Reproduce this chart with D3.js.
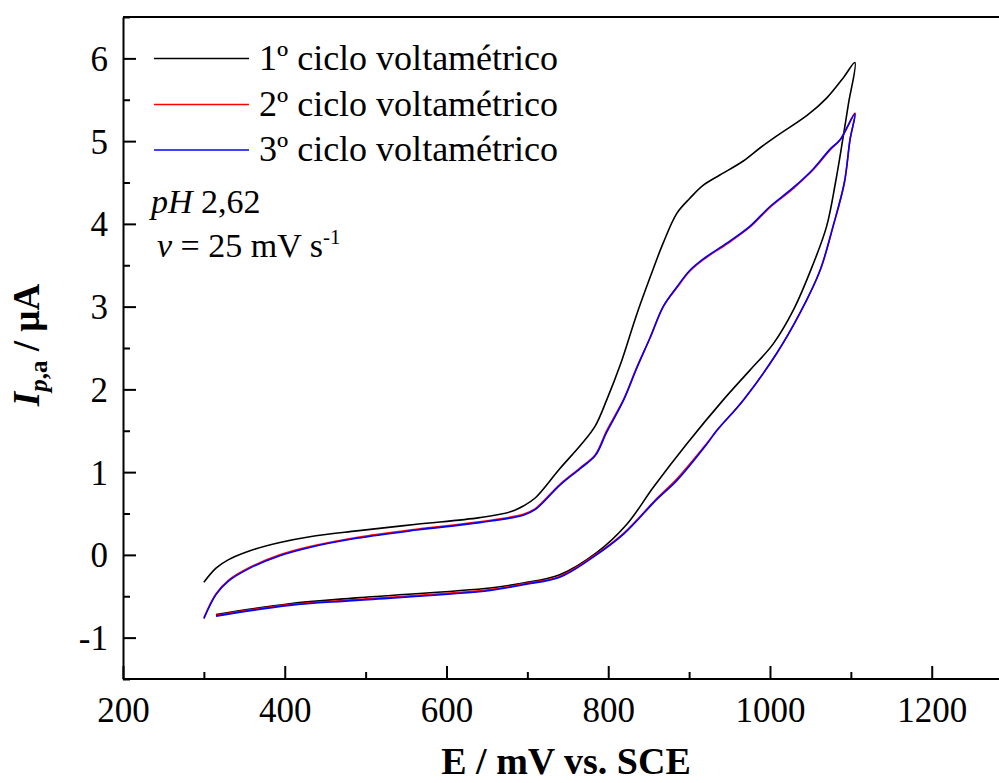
<!DOCTYPE html>
<html><head><meta charset="utf-8">
<script src="https://cdn.jsdelivr.net/npm/d3@7"></script>
<style>
body{margin:0;background:#fff;}
svg{display:block;}
text{font-family:"Liberation Serif","Times New Roman",serif;fill:#000;}
</style></head>
<body>
<svg id="chart" width="999" height="783"></svg>
<script>
// ---- data ----
const cycle1E = [300,315,330,357,394,431,489,563,641,679,695,710,740,767,784,798,815,835,852,868,885,901,918,938,967,988,1008,1047,1070,1091,1105,
                 1097,1090,1081,1070,1052,1029,1004,975,942,897,856,823,786,740,695,654,489,406,315];
const cycle1I = [-0.33,-0.16,-0.06,0.05,0.15,0.22,0.29,0.37,0.45,0.52,0.59,0.69,1.04,1.34,1.56,1.87,2.30,2.90,3.36,3.77,4.13,4.31,4.47,4.59,4.76,4.92,5.06,5.32,5.52,5.77,5.95,
                 5.45,5.02,4.50,3.97,3.48,2.96,2.55,2.23,1.87,1.34,0.82,0.37,0.03,-0.24,-0.34,-0.40,-0.52,-0.59,-0.72];
const cycle2E = [300,315,330,357,394,431,489,563,641,695,710,740,765,784,798,819,835,852,868,885,901,918,947,975,1000,1029,1054,1074,1087,1105,
                 1099,1092,1078,1062,1037,1008,967,934,922,885,860,819,781,740,695,654,489,406,315];
const cycle2I = [-0.76,-0.47,-0.31,-0.15,0.00,0.10,0.21,0.31,0.40,0.49,0.56,0.85,1.05,1.21,1.50,1.88,2.26,2.63,3.00,3.23,3.43,3.57,3.76,3.96,4.20,4.43,4.66,4.89,5.02,5.34,
                 5.02,4.50,3.97,3.44,2.92,2.43,1.87,1.50,1.35,0.92,0.68,0.26,-0.02,-0.26,-0.35,-0.42,-0.54,-0.60,-0.73];
const cycle3E = [300,315,330,357,394,431,489,563,641,695,710,740,765,784,798,819,835,852,868,885,901,918,947,975,1000,1029,1054,1074,1087,1105,
                 1099,1092,1078,1062,1037,1008,967,934,922,885,860,819,781,740,695,654,489,406,315];
const cycle3I = [-0.77,-0.48,-0.32,-0.16,-0.01,0.09,0.20,0.30,0.39,0.48,0.55,0.84,1.04,1.20,1.48,1.87,2.25,2.63,3.00,3.24,3.44,3.58,3.77,3.97,4.21,4.44,4.67,4.90,5.02,5.33,
                 5.02,4.50,3.97,3.44,2.92,2.43,1.87,1.50,1.34,0.90,0.67,0.25,-0.03,-0.27,-0.36,-0.43,-0.55,-0.61,-0.74];
const seriesNames = ["1º ciclo voltamétrico","2º ciclo voltamétrico","3º ciclo voltamétrico"];
const seriesColors = ["#000000","#ff0000","#0000ff"];
const xTickValues = [200,400,600,800,1000,1200];
const xMinorTicks = [300,500,700,900,1100,1300];
const yTickValues = [-1,0,1,2,3,4,5,6];
const yMinorTicks = [-1.5,-0.5,0.5,1.5,2.5,3.5,4.5,5.5,6.5];

// ---- layout ----
const svg = d3.select("#chart");
const x = d3.scaleLinear().domain([200,1300]).range([123,1012.6]);
const y = d3.scaleLinear().domain([-1.5,6.5]).range([679,17]);

const series = [
  {name:seriesNames[0], color:seriesColors[0], E:cycle1E, I:cycle1I},
  {name:seriesNames[1], color:seriesColors[1], E:cycle2E, I:cycle2I},
  {name:seriesNames[2], color:seriesColors[2], E:cycle3E, I:cycle3I}
];

const line = d3.line().curve(d3.curveCatmullRom.alpha(0.5)).x(d=>x(d[0])).y(d=>y(d[1]));
series.forEach(s=>{
  svg.append("path")
    .datum(s.E.map((e,i)=>[e,s.I[i]]))
    .attr("fill","none").attr("stroke",s.color).attr("stroke-width",1.6)
    .attr("stroke-linejoin","round")
    .attr("d",line);
});

// frame
svg.append("line").attr("x1",123).attr("x2",999).attr("y1",17).attr("y2",17).attr("stroke","#000").attr("stroke-width",2);

// axes
const fmt = d => String(d);
const xAxis = svg.append("g").attr("transform","translate(0,679)")
  .call(d3.axisBottom(x).tickValues(xTickValues).tickSizeInner(-13).tickSizeOuter(0).tickFormat(fmt));
svg.append("g").attr("transform","translate(0,679)")
  .call(d3.axisBottom(x).tickValues(xMinorTicks).tickSizeInner(-7).tickSizeOuter(0).tickFormat(""))
  .select(".domain").remove();
const yAxis = svg.append("g").attr("transform","translate(123,0)")
  .call(d3.axisLeft(y).tickValues(yTickValues).tickSizeInner(-13).tickSizeOuter(0).tickFormat(fmt));
svg.append("g").attr("transform","translate(123,0)")
  .call(d3.axisLeft(y).tickValues(yMinorTicks).tickSizeInner(-7).tickSizeOuter(0).tickFormat(""))
  .select(".domain").remove();
svg.selectAll(".domain").attr("stroke-width",2);
svg.selectAll(".tick line").attr("stroke-width",2);
svg.selectAll(".tick text").style("font-family","'Liberation Serif',serif").style("font-size","35px").attr("fill","#000");
xAxis.selectAll(".tick text").attr("dy","0").attr("y",43);
yAxis.selectAll(".tick text").attr("x",-15).attr("dy","0.34em");
xAxis.select(".domain").attr("d","M123,0H999");

// legend
const legY = [58.5,104.5,150];
series.forEach((s,i)=>{
  svg.append("line").attr("x1",154).attr("x2",249).attr("y1",legY[i]).attr("y2",legY[i])
    .attr("stroke",s.color).attr("stroke-width",1.6);
  svg.append("text").attr("x",259).attr("y",legY[i]+11).style("font-size","36px").text(s.name);
});

// annotations
const t1 = svg.append("text").attr("x",151).attr("y",213).style("font-size","34px");
t1.append("tspan").style("font-style","italic").text("pH");
t1.append("tspan").text(" 2,62");
const t2 = svg.append("text").attr("x",157).attr("y",257).style("font-size","34px");
t2.append("tspan").style("font-style","italic").text("ν");
t2.append("tspan").text(" = 25 mV s");
t2.append("tspan").attr("dy",-13).style("font-size","21px").text("-1");

// axis titles
svg.append("text").attr("x",566).attr("y",774).attr("text-anchor","middle")
  .style("font-size","38px").style("font-weight","bold").text("E / mV vs. SCE");
const yl = svg.append("text").attr("transform","translate(39,345) rotate(-90)").attr("text-anchor","middle")
  .style("font-size","37px").style("font-weight","bold");
yl.append("tspan").style("font-style","italic").text("I");
yl.append("tspan").attr("dy",8).style("font-size","25px").style("font-style","italic").text("p");
yl.append("tspan").style("font-size","25px").text(",a");
yl.append("tspan").attr("dy",-8).text(" / µA");
</script>
</body></html>
